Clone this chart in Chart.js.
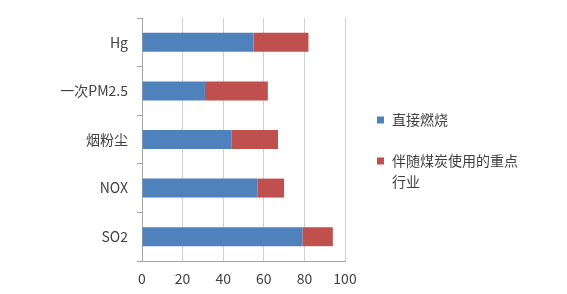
<!DOCTYPE html>
<html>
<head>
<meta charset="utf-8">
<script src="https://cdn.jsdelivr.net/npm/chart.js@4/dist/chart.umd.min.js"></script>
<style>
html,body{margin:0;padding:0;background:#fff;}
#wrap{width:567px;height:294px;position:relative;}
</style>
</head>
<body>
<div id="wrap"><canvas id="c" width="567" height="294"></canvas></div>
<script>
const categories = ['Hg', '一次PM2.5', '烟粉尘', 'NOX', 'SO2'];
const directBurn = [55, 31, 44, 57, 79];
const keyIndustry = [27, 31, 23, 13, 15];
const seriesNames = ['直接燃烧', ['伴随煤炭使用的重点', '行业']];
const xTicks = [0, 20, 40, 60, 80, 100];

const FONT = "'Noto Sans CJK SC', 'Open Sans', sans-serif";
const colors = ['#4F81BD', '#C0504D'];

const legendPlugin = {
  id: 'customLegend',
  afterDraw(chart) {
    const ctx = chart.ctx;
    ctx.save();
    ctx.font = '14px ' + FONT;
    ctx.textBaseline = 'middle';
    ctx.textAlign = 'left';
    const ys = [120, 161];
    chart.data.datasets.forEach((ds, i) => {
      ctx.fillStyle = ds.backgroundColor;
      ctx.fillRect(377, ys[i] - 3.5, 7, 7);
      ctx.fillStyle = '#404040';
      const lines = Array.isArray(seriesNames[i]) ? seriesNames[i] : [seriesNames[i]];
      lines.forEach((t, j) => ctx.fillText(t, 392, ys[i] + j * 21));
    });
    ctx.restore();
  }
};

new Chart(document.getElementById('c'), {
  type: 'bar',
  data: {
    labels: categories,
    datasets: [
      { label: '直接燃烧', data: directBurn, backgroundColor: colors[0], barPercentage: 0.39, categoryPercentage: 1 },
      { label: '伴随煤炭使用的重点行业', data: keyIndustry, backgroundColor: colors[1], barPercentage: 0.39, categoryPercentage: 1 }
    ]
  },
  options: {
    indexAxis: 'y',
    responsive: false,
    animation: false,
    layout: { padding: { left: 0, right: 222, top: 18, bottom: 0 } },
    plugins: { legend: { display: false }, tooltip: { enabled: false } },
    scales: {
      x: {
        stacked: true,
        min: 0, max: 100,
        afterBuildTicks(scale) { scale.ticks = xTicks.map(v => ({ value: v })); },
        afterFit(scale) { scale.height = 33; },
        grid: { color: '#d0d0d0', tickLength: 4, drawTicks: false },
        border: { color: '#a6a6a6' },
        ticks: { color: '#404040', font: { family: FONT, size: 14 }, padding: 9, autoSkip: false }
      },
      y: {
        stacked: true,
        afterFit(scale) { scale.width = 142; },
        grid: { display: true, drawOnChartArea: false, tickLength: 5, color: '#a6a6a6', offset: true },
        border: { color: '#a6a6a6' },
        ticks: { color: '#404040', font: { family: FONT, size: 14 }, padding: 9 }
      }
    }
  },
  plugins: [legendPlugin]
});
</script>
</body>
</html>
